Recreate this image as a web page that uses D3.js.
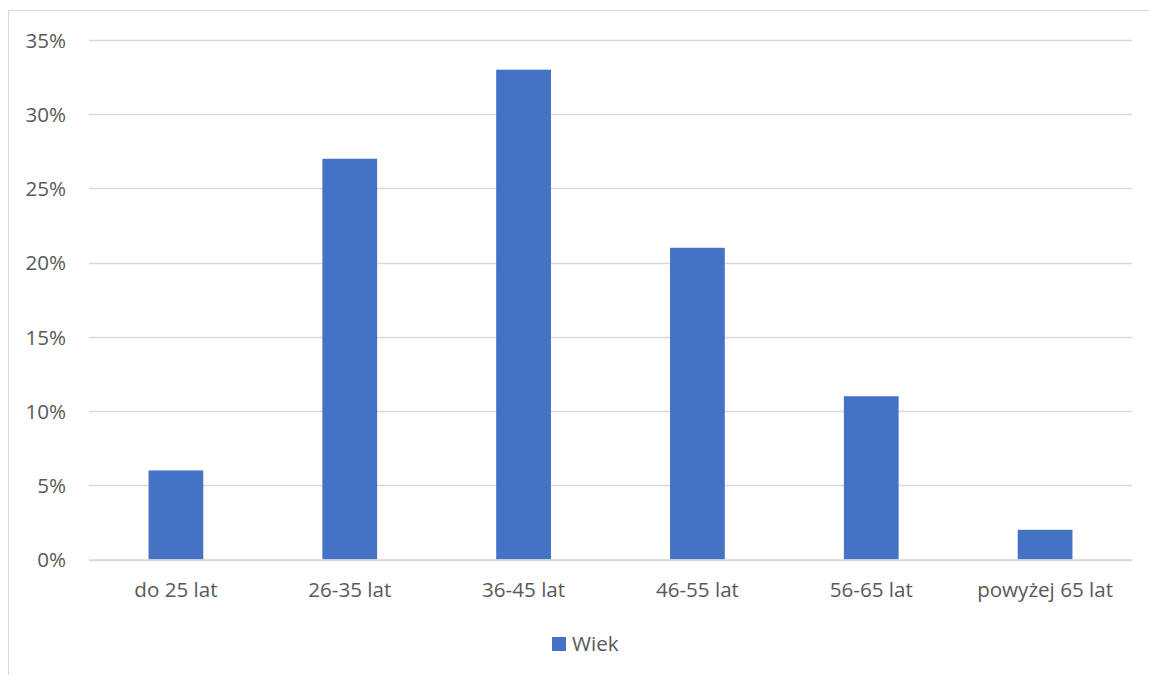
<!DOCTYPE html>
<html>
<head>
<meta charset="utf-8">
<script src="https://cdn.jsdelivr.net/npm/d3@7"></script>
<style>
  html, body { margin: 0; padding: 0; background: #fff; }
  svg { display: block; }
  text { font-family: "Open Sans", "Noto Sans", sans-serif; fill: #595959; }
</style>
</head>
<body>
<svg id="chart" width="1149" height="675"></svg>
<script>
// Age distribution of respondents
const categories = ["do 25 lat", "26-35 lat", "36-45 lat", "46-55 lat", "56-65 lat", "powyżej 65 lat"];
const values = [6, 27, 33, 21, 11, 2];
const yTicks = [0, 5, 10, 15, 20, 25, 30, 35];
const seriesName = "Wiek";
const barColor = "#4472C4";
const fontSize = "20.6px";

const svg = d3.select("#chart");

// chart frame
svg.append("rect")
  .attr("x", 8.5).attr("y", 10.5)
  .attr("width", 1160).attr("height", 700)
  .attr("fill", "none").attr("stroke", "#d9d9d9").attr("stroke-width", 1);

const plot = { left: 89, right: 1132, top: 40, bottom: 559.5 };

const x = d3.scaleBand()
  .domain(categories)
  .range([plot.left, plot.right])
  .paddingInner(0.685)
  .paddingOuter(0.3425);

const y = d3.scaleLinear()
  .domain([0, 35])
  .range([plot.bottom, plot.top]);

// horizontal gridlines
svg.append("g")
  .selectAll("line")
  .data(yTicks)
  .join("line")
  .attr("x1", plot.left).attr("x2", plot.right)
  .attr("y1", d => Math.round(y(d)) + 0.5).attr("y2", d => Math.round(y(d)) + 0.5)
  .attr("stroke", "#d9d9d9").attr("stroke-width", 1.3);

// y-axis labels
const yAxis = d3.axisLeft(y).tickValues(yTicks).tickFormat(d => d + "%").tickSize(0).tickPadding(0);
const gy = svg.append("g").attr("transform", `translate(66,0)`).call(yAxis);
gy.select(".domain").remove();
gy.selectAll("text").style("font-size", fontSize).attr("fill", "#595959").attr("dy", "0.35em");

// bars
svg.append("g")
  .selectAll("rect")
  .data(values)
  .join("rect")
  .attr("x", (d, i) => x(categories[i]))
  .attr("width", x.bandwidth())
  .attr("y", d => y(d))
  .attr("height", d => y(0) - y(d))
  .attr("fill", barColor);

// baseline
svg.append("line")
  .attr("x1", plot.left).attr("x2", plot.right)
  .attr("y1", 560).attr("y2", 560)
  .attr("stroke", "#d9d9d9").attr("stroke-width", 1.5);

// x-axis labels
const xAxis = d3.axisBottom(x).tickSize(0).tickPadding(0);
const gx = svg.append("g").attr("transform", `translate(0,590)`).call(xAxis);
gx.select(".domain").remove();
gx.selectAll("text").style("font-size", fontSize).attr("fill", "#595959").attr("dy", "0.35em");

// legend
const legend = svg.append("g").attr("transform", "translate(552,637)");
legend.append("rect").attr("width", 14).attr("height", 14).attr("fill", barColor);
legend.append("text").attr("x", 20).attr("y", 7).attr("dy", "0.36em")
  .style("font-size", fontSize).text(seriesName);
</script>
</body>
</html>
